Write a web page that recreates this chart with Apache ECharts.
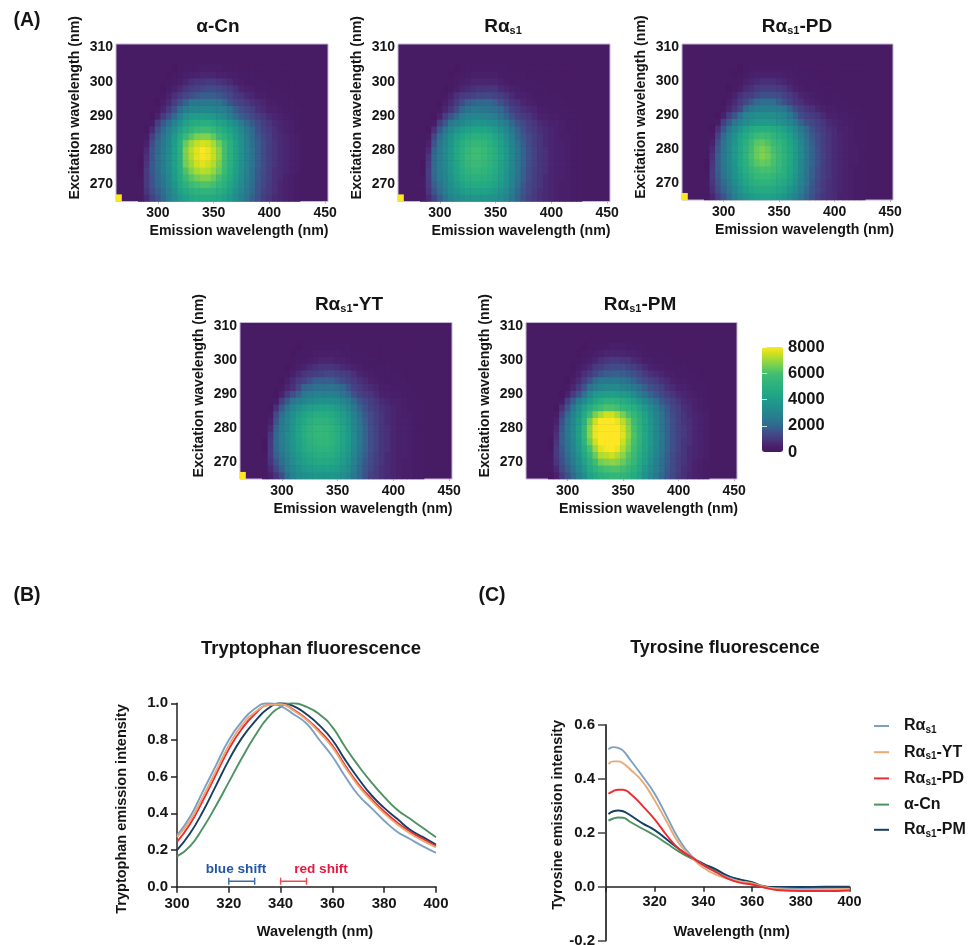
<!DOCTYPE html>
<html>
<head>
<meta charset="utf-8">
<style>
  html, body { margin: 0; padding: 0; background: #fff; }
  #main { width: 970px; height: 945px; }
</style>
<script src="https://cdn.jsdelivr.net/npm/echarts@6/dist/echarts.min.js"></script>
</head>
<body>
<div id="main"></div>
<script>
// heatmap axes (nm)
const emission = [265,270,275,280,285,290,295,300,305,310,315,320,325,330,335,340,345,350,355,360,365,370,375,380,385,390,395,400,405,410,415,420,425,430,435,440,445,450];
const excitation = [266,268,270,272,274,276,278,280,282,284,286,288,290,292,294,296,298,300,302,304,306,308,310];

// intensity in hundreds, rows = excitation 266..304, columns = emission 285..425
const alphaCn = [
  [2,7,12,16,20,26,32,38,42,45,47,47,47,46,45,42,38,33,28,24,18,15,11,9,7,6,5,4,3],
  [3,9,14,18,22,28,34,41,46,50,52,53,53,52,49,46,41,35,30,25,20,16,12,10,8,6,5,4,3],
  [3,10,16,20,24,30,37,45,51,57,60,61,61,59,54,50,44,38,32,26,21,16,13,10,8,6,5,4,3],
  [2,10,16,21,25,31,39,47,56,62,65,67,67,64,59,53,47,40,33,27,22,17,13,11,8,7,5,4,3],
  [1,10,17,21,26,32,40,49,61,67,71,73,72,69,64,57,49,41,34,28,22,17,14,11,8,7,6,5,4],
  [1,9,17,22,26,33,41,50,65,70,75,77,75,72,66,58,50,42,35,29,23,18,14,11,9,7,6,5,4],
  [1,8,16,22,27,33,41,51,66,72,77,79,78,74,68,59,51,43,36,29,23,18,14,11,9,7,6,5,4],
  [0,7,16,21,26,32,41,51,67,73,77,80,78,74,68,59,51,43,36,29,23,18,14,11,9,7,6,5,4],
  [0,5,14,20,25,31,40,50,64,70,74,76,75,71,65,58,50,42,35,28,22,18,14,11,9,7,6,5,4],
  [0,3,11,18,24,30,38,47,56,62,66,67,67,63,57,52,46,40,34,27,21,17,13,11,8,7,6,5,4],
  [0,1,7,15,21,27,34,42,48,53,57,58,58,55,51,47,42,37,31,25,20,15,12,10,8,6,5,4,3],
  [0,0,3,11,17,22,29,36,42,46,48,49,49,47,44,41,37,32,26,21,17,14,11,9,7,6,5,4,3],
  [0,0,1,5,10,15,21,29,36,39,40,40,39,38,35,32,27,22,18,16,13,11,9,7,6,5,4,3,3],
  [0,0,0,2,6,10,15,22,27,30,31,31,31,30,29,27,23,18,15,13,11,8,7,5,5,4,3,3,3],
  [0,0,0,1,4,7,11,15,19,25,25,25,25,25,24,20,16,13,12,10,8,7,6,4,4,3,3,3,2],
  [0,0,0,0,2,5,8,10,13,15,17,18,18,18,17,15,13,10,9,7,6,4,4,3,3,3,3,2,2],
  [0,0,0,0,1,3,5,7,9,11,12,13,14,14,13,12,10,8,6,5,4,3,3,3,3,2,2,2,2],
  [0,0,0,0,0,2,3,4,6,8,9,9,10,10,9,8,7,5,4,3,3,3,3,2,2,2,2,2,2],
  [0,0,0,0,0,1,2,3,4,5,5,6,6,6,5,5,4,4,3,3,3,2,2,2,2,2,2,2,2],
  [0,0,0,0,0,0,1,2,3,3,3,4,4,4,4,3,3,3,2,2,2,2,2,2,2,2,2,2,2]
];
const rasWild = [
  [2,7,12,18,24,29,32,34,36,37,37,37,36,35,33,29,24,19,15,12,10,8,7,6,5,4,4,3,3],
  [2,9,16,22,27,32,36,39,41,42,42,42,41,39,36,32,26,20,16,13,10,8,7,6,5,4,4,3,3],
  [3,10,18,24,29,34,39,43,46,47,47,47,45,43,39,35,28,22,17,13,11,9,7,6,5,4,4,3,3],
  [2,11,20,26,30,36,41,46,49,51,51,50,48,45,41,36,29,23,18,14,11,9,7,6,5,5,4,3,3],
  [1,11,21,27,31,37,43,48,52,54,54,53,51,47,42,37,30,24,18,14,11,9,8,6,5,5,4,3,3],
  [1,10,21,27,32,38,44,50,54,57,57,55,52,48,43,38,31,24,19,15,12,9,8,6,5,5,4,3,3],
  [0,9,20,27,32,38,45,51,56,58,58,56,53,49,44,38,31,24,19,15,12,9,8,6,5,5,4,3,3],
  [0,7,19,26,32,38,45,51,55,58,58,56,53,49,43,38,30,24,19,15,12,9,8,6,5,5,4,3,3],
  [0,5,16,25,31,37,44,49,53,55,55,54,51,47,42,36,29,23,18,14,11,9,7,6,5,5,4,3,3],
  [0,3,13,22,29,35,41,45,48,50,51,50,48,44,40,34,27,21,17,14,11,9,7,6,5,4,4,3,3],
  [0,1,8,17,24,31,36,40,42,44,44,44,42,39,35,30,24,19,15,12,10,8,7,6,5,4,3,3,3],
  [0,0,3,11,17,25,28,31,34,36,37,37,35,33,30,26,20,16,13,11,9,7,6,5,5,4,3,3,3],
  [0,0,1,5,11,16,21,27,30,31,31,30,29,27,23,19,15,12,10,9,7,5,5,4,4,3,3,3,2],
  [0,0,0,2,6,9,14,20,23,25,25,24,23,22,20,16,12,10,8,7,6,4,4,3,3,3,3,2,2],
  [0,0,0,1,4,7,10,14,18,19,20,20,20,18,15,12,9,8,6,5,4,3,3,3,3,3,2,2,2],
  [0,0,0,0,2,5,8,10,11,12,13,13,13,12,11,9,7,5,5,4,3,3,3,3,3,2,2,2,2],
  [0,0,0,0,1,2,4,6,7,8,9,9,9,9,7,6,5,4,3,3,3,3,3,2,2,2,2,2,2],
  [0,0,0,0,0,2,3,4,5,6,6,6,6,6,5,4,3,3,3,3,3,2,2,2,2,2,2,2,2],
  [0,0,0,0,0,1,2,3,3,4,4,4,4,4,3,3,3,3,3,2,2,2,2,2,2,2,2,2,2],
  [0,0,0,0,0,0,1,2,3,3,3,3,3,3,3,3,2,2,2,2,2,2,2,2,2,2,2,2,2]
];
const rasPD = [
  [2,6,11,16,21,27,32,36,39,41,42,42,41,40,37,33,29,24,19,15,12,9,8,7,5,5,4,3,3],
  [2,8,14,19,24,30,36,40,44,46,47,47,46,44,41,37,32,27,21,16,13,10,8,7,6,5,4,3,3],
  [3,9,16,21,26,33,39,44,48,51,52,52,51,48,45,41,35,29,23,17,13,10,8,7,6,5,4,3,3],
  [2,10,17,23,28,35,41,46,51,55,56,56,54,51,48,43,37,30,23,18,14,11,9,7,6,5,4,3,3],
  [1,10,18,24,30,36,43,49,54,58,60,60,58,54,50,44,38,31,24,18,14,11,9,7,6,5,4,3,3],
  [1,9,18,25,31,37,45,51,58,62,64,63,60,56,51,45,39,31,24,19,15,11,9,7,6,5,4,4,3],
  [0,8,18,25,31,38,45,52,60,64,67,65,61,57,52,46,39,32,25,19,15,12,9,7,6,5,4,4,3],
  [0,7,17,24,31,38,45,52,59,64,66,64,60,56,51,45,39,32,25,19,15,11,9,7,6,5,4,4,3],
  [0,5,15,23,30,37,44,50,57,62,63,61,57,54,50,44,38,31,24,18,14,11,9,7,6,5,4,3,3],
  [0,3,12,21,28,35,42,47,52,56,58,57,53,49,46,41,35,28,22,17,14,11,9,7,6,5,4,3,3],
  [0,1,8,16,24,31,37,42,46,48,49,49,47,45,41,37,31,25,20,15,12,10,8,7,5,5,4,3,3],
  [0,0,3,11,17,25,29,33,36,38,39,39,38,36,33,30,25,19,15,13,11,9,7,6,5,4,4,3,3],
  [0,0,1,5,11,16,23,30,32,34,34,34,34,32,30,25,19,14,12,10,9,7,5,5,4,4,3,3,3],
  [0,0,0,2,6,9,13,21,24,26,27,27,27,26,24,19,14,11,9,8,6,5,4,4,3,3,3,3,2],
  [0,0,0,1,4,7,10,13,17,21,22,22,22,18,15,12,9,8,6,5,4,3,3,3,3,3,2,2,2],
  [0,0,0,0,2,5,8,10,11,13,15,15,15,14,12,10,8,6,5,4,3,3,3,3,3,2,2,2,2],
  [0,0,0,0,1,2,4,7,8,10,11,11,11,10,9,7,5,4,3,3,3,3,3,2,2,2,2,2,2],
  [0,0,0,0,0,2,3,5,6,7,8,8,8,7,6,5,4,3,3,3,3,2,2,2,2,2,2,2,2],
  [0,0,0,0,0,1,2,3,4,5,5,5,5,5,4,4,3,3,3,3,2,2,2,2,2,2,2,2,2],
  [0,0,0,0,0,0,1,2,3,3,3,3,3,3,3,3,3,2,2,2,2,2,2,2,2,2,2,2,2]
];
const rasYT = [
  [2,5,9,14,22,28,32,34,36,37,37,37,37,36,34,30,25,20,15,12,10,8,7,6,5,4,4,3,3],
  [2,7,13,19,26,31,35,38,40,41,41,42,41,40,37,33,27,21,16,13,10,8,7,6,5,4,4,3,3],
  [3,9,16,22,27,33,38,41,44,45,46,46,45,43,40,35,29,22,17,14,11,9,7,6,5,4,4,3,3],
  [2,10,19,24,29,34,39,43,46,48,49,49,48,45,41,37,30,23,18,14,11,9,7,6,5,5,4,3,3],
  [1,10,20,26,31,36,41,46,49,51,52,52,50,47,43,38,31,24,19,15,12,9,8,6,5,5,4,3,3],
  [1,10,21,27,31,37,42,47,51,53,54,54,52,48,44,39,32,25,19,15,12,9,8,6,5,5,4,3,3],
  [0,9,20,27,32,37,43,48,52,54,55,55,52,49,44,39,32,25,19,15,12,9,8,6,5,5,4,3,3],
  [0,7,19,26,31,37,43,48,52,54,55,54,52,48,44,38,31,25,19,15,12,9,8,6,5,5,4,3,3],
  [0,5,16,25,31,36,42,46,50,52,52,52,50,46,42,37,30,24,18,14,11,9,7,6,5,5,4,3,3],
  [0,3,13,22,28,34,39,43,46,48,48,48,46,43,40,35,28,22,17,14,11,9,7,6,5,4,4,3,3],
  [0,1,8,17,24,30,34,38,41,42,43,43,42,39,36,31,25,19,15,12,10,8,7,6,5,4,3,3,3],
  [0,0,3,11,17,24,27,30,32,34,35,35,34,33,30,26,21,16,13,11,9,7,6,5,5,4,3,3,3],
  [0,0,1,5,10,15,19,25,27,29,29,28,28,27,24,20,15,12,10,9,7,5,5,4,4,3,3,3,2],
  [0,0,0,2,6,8,13,19,21,23,23,23,23,22,20,16,12,10,8,7,6,4,4,3,3,3,3,2,2],
  [0,0,0,1,4,7,10,12,15,18,18,18,18,16,14,12,10,8,7,5,4,3,3,3,3,3,2,2,2],
  [0,0,0,0,2,4,7,9,10,11,12,13,13,12,11,10,8,6,5,4,3,3,3,3,3,2,2,2,2],
  [0,0,0,0,1,2,4,5,7,8,9,9,9,8,7,6,5,4,3,3,3,3,3,2,2,2,2,2,2],
  [0,0,0,0,0,2,3,3,4,5,6,6,6,5,5,4,3,3,3,3,3,2,2,2,2,2,2,2,2],
  [0,0,0,0,0,1,2,3,3,4,4,4,4,4,3,3,3,3,3,2,2,2,2,2,2,2,2,2,2],
  [0,0,0,0,0,0,1,2,2,3,3,3,3,3,3,3,2,2,2,2,2,2,2,2,2,2,2,2,2]
];
const rasPM = [
  [1,5,10,15,20,27,34,42,46,50,52,54,54,53,51,47,42,35,30,25,20,16,13,10,8,6,5,4,3],
  [2,7,13,18,24,31,38,47,52,57,60,61,61,59,55,51,45,38,32,27,22,17,14,11,8,7,5,4,3],
  [3,9,15,20,26,34,42,51,58,65,67,68,67,64,60,55,47,41,34,28,22,18,14,11,9,7,5,4,3],
  [2,10,16,22,28,36,45,55,64,72,73,75,72,68,62,57,49,42,36,29,23,18,14,11,9,7,6,5,4],
  [1,10,17,23,30,38,48,60,70,77,79,80,78,72,65,58,51,44,37,30,24,19,15,12,9,7,6,5,4],
  [1,9,18,24,31,40,52,65,75,80,82,82,80,75,67,60,52,44,38,31,24,19,15,12,9,8,6,5,4],
  [0,8,18,25,32,41,54,68,78,82,85,85,82,77,69,61,53,45,38,31,25,19,15,12,10,8,6,5,4],
  [0,7,17,25,32,41,54,68,78,82,85,85,81,76,68,60,52,44,38,31,24,19,15,12,10,8,6,5,4],
  [0,5,15,24,31,40,51,65,75,80,82,82,78,73,66,58,51,44,37,30,24,19,15,12,9,8,6,5,4],
  [0,3,12,21,29,37,47,57,66,71,75,75,71,66,60,55,48,42,35,29,23,18,14,11,9,7,6,5,4],
  [0,1,8,16,25,33,41,48,54,58,61,61,59,55,52,49,44,38,32,26,21,17,13,11,8,7,5,4,3],
  [0,0,3,11,18,26,32,39,45,49,52,52,51,48,45,41,37,31,26,22,17,14,12,9,7,6,5,4,3],
  [0,0,1,5,10,16,23,32,38,40,41,41,40,39,37,33,27,23,19,16,13,11,9,7,6,5,4,3,3],
  [0,0,0,2,6,10,16,23,27,30,32,32,32,30,28,25,22,18,15,13,11,8,7,5,5,4,3,3,3],
  [0,0,0,1,4,7,11,16,21,24,25,25,25,24,22,19,16,14,12,10,8,7,5,4,4,3,3,3,2],
  [0,0,0,0,2,5,8,10,13,16,18,18,19,18,17,15,13,10,8,7,6,4,4,3,3,3,3,2,2],
  [0,0,0,0,1,3,5,7,10,11,13,14,14,14,12,11,9,7,5,4,4,3,3,3,3,2,2,2,2],
  [0,0,0,0,0,2,3,4,6,8,9,10,10,9,9,7,6,4,4,3,3,3,3,2,2,2,2,2,2],
  [0,0,0,0,0,1,2,3,4,5,6,6,6,6,5,5,4,3,3,3,3,2,2,2,2,2,2,2,2],
  [0,0,0,0,0,0,1,2,3,3,3,4,4,4,3,3,3,3,2,2,2,2,2,2,2,2,2,2,2]
];

// tryptophan emission, normalised
const trpX = [300,305,310,315,320,325,330,335,340,345,350,355,360,365,370,375,380,385,390,395,400];
const trpRas = [.28,.38,.52,.66,.80,.90,.97,1,.985,.94,.89,.80,.71,.60,.50,.43,.36,.30,.26,.22,.185];
const trpYT = [.27,.36,.49,.63,.77,.88,.95,.99,.995,.96,.91,.84,.76,.65,.55,.47,.40,.34,.29,.25,.215];
const trpPD = [.245,.34,.47,.61,.75,.86,.94,.99,.995,.965,.915,.85,.77,.66,.56,.48,.41,.35,.30,.26,.22];
const trpCn = [.165,.22,.32,.44,.57,.70,.82,.92,.98,1,.98,.94,.87,.76,.66,.57,.49,.42,.37,.32,.27];
const trpPM = [.20,.29,.41,.55,.69,.81,.90,.97,1,.985,.94,.88,.80,.69,.59,.50,.43,.37,.31,.27,.23];

// tyrosine emission
const tyrX = [301,303,305,307,310,315,320,325,330,335,340,345,350,355,360,365,370,380,390,400];
const tyrRas = [.51,.518,.515,.505,.47,.41,.345,.26,.175,.115,.08,.055,.035,.02,.012,-.002,-.006,-.008,-.008,-.008];
const tyrYT = [.455,.465,.465,.458,.435,.39,.32,.24,.16,.11,.07,.045,.03,.02,.012,0,-.008,-.012,-.01,-.008];
const tyrPD = [.345,.355,.36,.36,.345,.30,.25,.19,.14,.11,.08,.055,.03,.015,.008,-.003,-.012,-.016,-.016,-.014];
const tyrCn = [.245,.253,.257,.256,.24,.215,.19,.16,.13,.105,.085,.06,.04,.025,.015,.002,-.005,-.006,-.006,-.006];
const tyrPM = [.27,.28,.283,.28,.265,.235,.21,.175,.14,.11,.085,.065,.04,.027,.017,0,-.001,-.001,0,0];

const blueShift = [[320,.03],[330,.03]];
const redShift = [[340,.03],[350,.03]];

const viridis = ['#46175f','#4a216d','#483a80','#3f4f8a','#31688e','#2a788e','#25858e','#21918c','#1f9d8a','#22a884','#2ab07f','#35b779','#45bf70','#6ece58','#9bd93c','#cde11d','#fde725'];
const colors = { ras:'#7ba0c4', yt:'#e8aa75', pd:'#ee2b33', cn:'#4e9163', pm:'#173f63' };
const font = '"Liberation Sans", Arial, sans-serif';
const ink = '#151515';

const myChart = echarts.init(document.getElementById('main'));

const panels = [
  { title:'{m|α-Cn}', rows:alphaCn, left:116, right:328, top:44, bottom:201.5, cx:218, cy:17, corner:true },
  { title:'{m|Rα}{s|s1}', rows:rasWild, left:398, right:610, top:44, bottom:201.5, cx:503, cy:17, corner:true },
  { title:'{m|Rα}{s|s1}{m|-PD}', rows:rasPD, left:682, right:893, top:44, bottom:200, cx:797, cy:17, corner:true },
  { title:'{m|Rα}{s|s1}{m|-YT}', rows:rasYT, left:240, right:452, top:322.5, bottom:479, cx:349, cy:295, corner:true },
  { title:'{m|Rα}{s|s1}{m|-PM}', rows:rasPM, left:526, right:737, top:322.5, bottom:479, cx:640, cy:295, corner:false }
];

const grids = [], xAxes = [], yAxes = [], series = [], titles = [];

const richTitle = {
  m:{ fontFamily:font, fontWeight:'bold', fontSize:19, color:ink },
  s:{ fontFamily:font, fontWeight:'bold', fontSize:11, color:ink, verticalAlign:'bottom', padding:[8,0,0,0] }
};

function heatCells(rows, corner){
  let cells = [];
  rows.forEach(function(row, r){
    row.forEach(function(v, c){
      if(v > 0) cells.push([c + 4, r, v * 100]);
    });
  });
  if(corner) cells.push([0, 0, 8000]);
  return cells;
}

panels.forEach(function(p, i){
  grids.push({
    left:p.left, top:p.top, width:p.right - p.left, height:p.bottom - p.top,
    show:true, backgroundColor:'#481c65', borderColor:'#c4b6d4', borderWidth:1, outerBoundsMode:'none'
  });
  xAxes.push({
    gridIndex:i, type:'category', data:emission, position:'bottom',
    axisLine:{ show:false },
    axisTick:{ show:true, alignWithLabel:true, length:2, lineStyle:{ color:'#b5b5b5' }, interval:function(n, v){ return v % 50 == 0 } },
    axisLabel:{ interval:function(n, v){ return v % 50 == 0 }, margin:5, fontFamily:font, fontWeight:'bold', fontSize:14, color:ink },
    name:'Emission wavelength (nm)', nameLocation:'middle', nameGap:23,
    nameTextStyle:{ fontFamily:font, fontWeight:'bold', fontSize:14.2, color:ink, padding:[0,0,0,34] }
  });
  yAxes.push({
    gridIndex:i, type:'category', data:excitation, position:'left',
    axisLine:{ show:false },
    axisTick:{ show:false },
    axisLabel:{ interval:function(n, v){ return v % 10 == 0 }, margin:3, fontFamily:font, fontWeight:'bold', fontSize:14, color:ink },
    name:'Excitation wavelength (nm)', nameLocation:'middle', nameGap:34,
    nameTextStyle:{ fontFamily:font, fontWeight:'bold', fontSize:14.2, color:ink, padding:[0,0,0,30] }
  });
  series.push({
    type:'heatmap', xAxisIndex:i, yAxisIndex:i,
    data:heatCells(p.rows, p.corner), silent:true, progressive:0, animation:false
  });
  titles.push({
    text:p.title, left:p.cx, top:p.cy, textAlign:'center', padding:0,
    textStyle:{ rich:richTitle }
  });
});

// colour bar scale
grids.push({ left:762, top:347, width:21, height:105, outerBoundsMode:'none' });
xAxes.push({ gridIndex:5, type:'value', show:false });
[['right',5],['left',5]].forEach(function(side, k){
  yAxes.push({
    gridIndex:5, type:'value', min:0, max:8000, interval:2000, position:side[0], z:10,
    axisLine:{ show:false },
    splitLine:{ show:false },
    axisTick:{ show:true, inside:true, length:side[1], lineStyle:{ color:'rgba(255,255,255,.75)' } },
    axisLabel:{ show:k == 0, margin:5, fontFamily:font, fontWeight:'bold', fontSize:16.5, color:ink, formatter:function(v){ return String(v) } }
  });
});

// panel B: xAxis 6, yAxis 7
const trpAxes = { x:6, y:7 };
grids.push({ left:177, top:703.3, width:259, height:183.4, outerBoundsMode:'none' });
xAxes.push({
  gridIndex:6, type:'value', min:300, max:400, interval:20,
  axisLine:{ lineStyle:{ color:'#222', width:1.5 } },
  axisTick:{ length:6, lineStyle:{ color:'#222', width:1.5 } },
  splitLine:{ show:false },
  axisLabel:{ margin:10, fontFamily:font, fontWeight:'bold', fontSize:15, color:ink },
  name:'Wavelength (nm)', nameLocation:'middle', nameGap:38,
  nameTextStyle:{ fontFamily:font, fontWeight:'bold', fontSize:14.5, color:ink, padding:[0,0,0,17] }
});
yAxes.push({
  gridIndex:6, type:'value', min:0, max:1, interval:.2,
  axisLine:{ show:true, lineStyle:{ color:'#222', width:1.5 } },
  axisTick:{ show:true, length:6, lineStyle:{ color:'#222', width:1.5 } },
  splitLine:{ show:false },
  axisLabel:{ margin:9, fontFamily:font, fontWeight:'bold', fontSize:15, color:ink, formatter:function(v){ return v.toFixed(1) } },
  name:'Tryptophan emission intensity', nameLocation:'middle', nameGap:48,
  nameTextStyle:{ fontFamily:font, fontWeight:'bold', fontSize:14.5, color:ink, padding:[0,28,0,0] }
});

// panel C: xAxis 7, yAxis 8. the x axis sits on y = 0 through a negative offset
const tyrAxes = { x:7, y:8 };
grids.push({ left:606, top:725, width:243.5, height:215.6, outerBoundsMode:'none' });
xAxes.push({
  gridIndex:7, type:'value', min:300, max:400, interval:20, offset:-53.9,
  axisLine:{ onZero:false, lineStyle:{ color:'#222', width:1.5 } },
  axisTick:{ length:5, lineStyle:{ color:'#222', width:1.5 } },
  splitLine:{ show:false },
  axisLabel:{ margin:8, fontFamily:font, fontWeight:'bold', fontSize:14.5, color:ink, formatter:function(v){ return v == 300 ? '' : v } },
  name:'Wavelength (nm)', nameLocation:'middle', nameGap:38,
  nameTextStyle:{ fontFamily:font, fontWeight:'bold', fontSize:14.5, color:ink, padding:[0,0,0,8] }
});
yAxes.push({
  gridIndex:7, type:'value', min:-.2, max:.6, interval:.2,
  axisLine:{ show:true, lineStyle:{ color:'#444', width:2 } },
  axisTick:{ show:true, length:8, lineStyle:{ color:'#444', width:1.5 } },
  splitLine:{ show:false },
  axisLabel:{ margin:11, fontFamily:font, fontWeight:'bold', fontSize:15, color:ink, formatter:function(v){ return v.toFixed(1) } },
  name:'Tyrosine emission intensity', nameLocation:'middle', nameGap:41,
  nameTextStyle:{ fontFamily:font, fontWeight:'bold', fontSize:14.5, color:ink, padding:[0,0,0,36] }
});

function pairs(xs, ys){
  return xs.map(function(x, i){ return [x, ys[i]] });
}
function curve(name, color, xs, ys, axes){
  series.push({
    name:name, type:'line', xAxisIndex:axes.x, yAxisIndex:axes.y,
    data:pairs(xs, ys), smooth:.5, showSymbol:false, symbol:'none', silent:true,
    lineStyle:{ color:color, width:1.9 }, itemStyle:{ color:color }, animation:false
  });
}
curve('Rαs1-PM', colors.pm, trpX, trpPM, trpAxes);
curve('α-Cn', colors.cn, trpX, trpCn, trpAxes);
curve('Rαs1', colors.ras, trpX, trpRas, trpAxes);
curve('Rαs1-PD', colors.pd, trpX, trpPD, trpAxes);
curve('Rαs1-YT', colors.yt, trpX, trpYT, trpAxes);

curve('α-Cn', colors.cn, tyrX, tyrCn, tyrAxes);
curve('Rαs1-PM', colors.pm, tyrX, tyrPM, tyrAxes);
curve('Rαs1', colors.ras, tyrX, tyrRas, tyrAxes);
curve('Rαs1-YT', colors.yt, tyrX, tyrYT, tyrAxes);
curve('Rαs1-PD', colors.pd, tyrX, tyrPD, tyrAxes);

function shiftBar(data, color){
  series.push({
    type:'line', xAxisIndex:trpAxes.x, yAxisIndex:trpAxes.y, data:data, silent:true, animation:false,
    symbol:'rect', symbolSize:[1.4,7], showSymbol:true,
    lineStyle:{ color:color, width:1.4 }, itemStyle:{ color:color }
  });
}
shiftBar(blueShift, '#3c68ad');
shiftBar(redShift, '#f04a50');

// panel letters and headings
[['(A)',27,11],['(B)',27,586],['(C)',492,586]].forEach(function(t){
  titles.push({ text:t[0], left:t[1], top:t[2], textAlign:'center', padding:0,
    textStyle:{ fontFamily:font, fontWeight:'bold', fontSize:19.5, color:ink } });
});
[['Tryptophan fluorescence',311,639,18.5],['Tyrosine fluorescence',725,639,18]].forEach(function(t){
  titles.push({ text:t[0], left:t[1], top:t[2], textAlign:'center', padding:0,
    textStyle:{ fontFamily:font, fontWeight:'bold', fontSize:t[3], color:ink } });
});
[['blue shift',236,'#2255a4'],['red shift',321,'#e8173f']].forEach(function(t){
  titles.push({ text:t[0], left:t[1], top:862, textAlign:'center', padding:0,
    textStyle:{ fontFamily:font, fontWeight:'bold', fontSize:13.6, color:t[2] } });
});

const legendRich = {
  g:{ width:10 },
  m:{ fontFamily:font, fontWeight:'bold', fontSize:16, color:ink },
  s:{ fontFamily:font, fontWeight:'bold', fontSize:10, color:ink, verticalAlign:'bottom', padding:[8,0,0,0] }
};

myChart.setOption({
  backgroundColor:'#fff',
  animation:false,
  title:titles,
  grid:grids,
  xAxis:xAxes,
  yAxis:yAxes,
  visualMap:{
    type:'continuous', min:0, max:8000, calculable:false, realtime:false,
    seriesIndex:[0,1,2,3,4], left:747, top:332, itemWidth:21, itemHeight:105,
    inRange:{ color:viridis }
  },
  legend:{
    orient:'vertical', left:874, top:718, itemWidth:15, itemHeight:2, itemGap:9.2, icon:'rect',
    padding:0, selectedMode:false,
    data:['Rαs1','Rαs1-YT','Rαs1-PD','α-Cn','Rαs1-PM'],
    textStyle:{ rich:legendRich },
    formatter:function(n){
      if(n == 'α-Cn') return '{g|}{m|α-Cn}';
      return '{g|}{m|Rα}{s|s1}' + (n.length > 4 ? '{m|' + n.slice(4) + '}' : '');
    }
  },
  series:series
});
</script>
</body>
</html>
